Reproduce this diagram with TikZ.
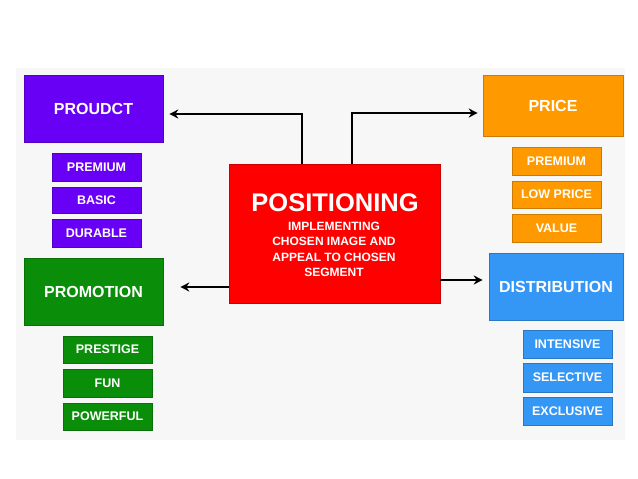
\documentclass[tikz,border=0pt]{standalone}
\usepackage{fontspec}
\setmainfont{Liberation Sans}
\usetikzlibrary{arrows.meta}
\definecolor{cpurple}{RGB}{104,0,246}
\definecolor{corange}{RGB}{255,153,0}
\definecolor{cgreen}{RGB}{10,142,10}
\definecolor{cblue}{RGB}{52,150,245}
\definecolor{cred}{RGB}{255,0,0}
\definecolor{bgray}{RGB}{247,247,247}
\tikzset{
  box/.style={inner sep=0pt, text=white, font=\fontsize{16}{18}\selectfont\bfseries, align=center},
  mainbox/.style={box, draw=#1!80!black, fill=#1, line width=0.6pt},
  subbox/.style={box, draw=#1!80!black, fill=#1, line width=0.6pt, font=\fontsize{12.5}{14}\selectfont\bfseries},
  arr/.style={draw=black, line width=2.4pt, -{Stealth[length=9pt,width=9pt]}}
}
\begin{document}
\begin{tikzpicture}[x=1pt,y=-1pt]
\useasboundingbox (0,0) rectangle (638,479);
\fill[white] (0,0) rectangle (638,479);
\fill[bgray] (16,68) rectangle (625,440);
% main boxes
\node[mainbox=cpurple, minimum width=139pt, minimum height=67pt] (prod) at (93.5,108.5) {PROUDCT};
\node[mainbox=corange, minimum width=140pt, minimum height=61pt] (price) at (553,105.5) {PRICE};
\node[mainbox=cgreen, minimum width=139pt, minimum height=67pt] (promo) at (93.5,291.5) {PROMOTION};
\node[mainbox=cblue, minimum width=134pt, minimum height=67pt] (dist) at (556,286.5) {DISTRIBUTION};
% positioning
\node[mainbox=cred, minimum width=211pt, minimum height=139pt] (pos) at (334.5,233.5) {};
\node[box, font=\fontsize{25.5}{28}\selectfont\bfseries] (postitle) at (335,202.5) {POSITIONING};
\node[box, font=\fontsize{12}{15.5}\selectfont\bfseries] (posbody) at (334,249.5) {IMPLEMENTING\\CHOSEN IMAGE AND\\APPEAL TO CHOSEN\\SEGMENT};
% product subs
\node[subbox=cpurple, minimum width=89pt, minimum height=28pt] (p1) at (96.5,167) {PREMIUM};
\node[subbox=cpurple, minimum width=89pt, minimum height=26pt] (p2) at (96.5,200) {BASIC};
\node[subbox=cpurple, minimum width=89pt, minimum height=28pt] (p3) at (96.5,233) {DURABLE};
% price subs
\node[subbox=corange, minimum width=89pt, minimum height=28pt] (r1) at (556.5,161) {PREMIUM};
\node[subbox=corange, minimum width=89pt, minimum height=27pt] (r2) at (556.5,194.5) {LOW PRICE};
\node[subbox=corange, minimum width=89pt, minimum height=28pt] (r3) at (556.5,228) {VALUE};
% promotion subs
\node[subbox=cgreen, minimum width=89pt, minimum height=27pt] (m1) at (107.5,349.5) {PRESTIGE};
\node[subbox=cgreen, minimum width=89pt, minimum height=28pt] (m2) at (107.5,383) {FUN};
\node[subbox=cgreen, minimum width=89pt, minimum height=27pt] (m3) at (107.5,416.5) {POWERFUL};
% distribution subs
\node[subbox=cblue, minimum width=89pt, minimum height=28pt] (d1) at (567.5,344) {INTENSIVE};
\node[subbox=cblue, minimum width=89pt, minimum height=29pt] (d2) at (567.5,377.5) {SELECTIVE};
\node[subbox=cblue, minimum width=89pt, minimum height=28pt] (d3) at (567.5,411) {EXCLUSIVE};
% arrows
\draw[arr, shorten >=6pt] ([xshift=-32.5pt]pos.north) |- ([yshift=-5.5pt]prod.east);
\draw[arr, shorten >=5pt] ([xshift=17.5pt]pos.north) |- ([yshift=-7.5pt]price.west);
\draw[arr, shorten >=17pt] ([yshift=-53.5pt]pos.west) -- ([yshift=4.5pt]promo.east);
\draw[arr, shorten >=6pt] ([yshift=-46.5pt]pos.east) -- ([yshift=6.5pt]dist.west);
\end{tikzpicture}
\end{document}
